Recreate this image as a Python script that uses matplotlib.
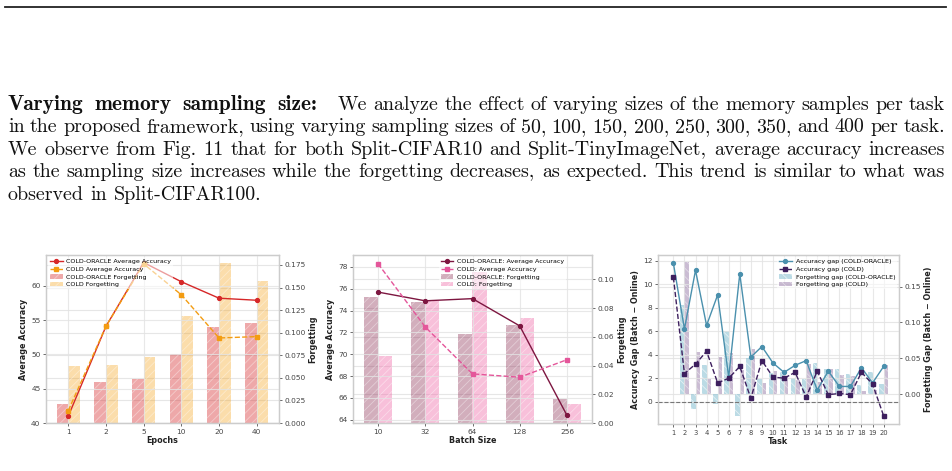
import matplotlib
matplotlib.use("Agg")
import matplotlib.pyplot as plt
from matplotlib.lines import Line2D
from matplotlib.ticker import MultipleLocator, FormatStrFormatter
import numpy as np

W, H = 952, 471

# ---- paragraph text ----
heading = "Varying memory sampling size:"
para_lines = [
    "We analyze the effect of varying sizes of the memory samples per task",
    "in the proposed framework, using varying sampling sizes of 50, 100, 150, 200, 250, 300, 350, and 400 per task.",
    "We observe from Fig. 11 that for both Split-CIFAR10 and Split-TinyImageNet, average accuracy increases",
    "as the sampling size increases while the forgetting decreases, as expected. This trend is similar to what was",
    "observed in Split-CIFAR100.",
]

# ---- panel 1: epochs ----
epochs = ["1", "2", "5", "10", "20", "40"]
ep_acc_oracle = [41.0, 54.1, 63.4, 60.6, 58.2, 57.9]
ep_acc_cold = [41.8, 54.1, 63.2, 58.7, 52.4, 52.6]
ep_fgt_oracle = [0.021, 0.045, 0.049, 0.076, 0.106, 0.111]
ep_fgt_cold = [0.063, 0.064, 0.073, 0.118, 0.177, 0.157]

# ---- panel 2: batch size ----
batch = ["10", "32", "64", "128", "256"]
bs_acc_oracle = [75.7, 74.9, 75.1, 72.6, 64.4]
bs_acc_cold = [78.3, 72.5, 68.2, 67.9, 69.5]
bs_fgt_oracle = [0.0875, 0.084, 0.062, 0.068, 0.017]
bs_fgt_cold = [0.047, 0.085, 0.105, 0.073, 0.013]

# ---- panel 3: per task gaps ----
tasks = list(range(1, 21))
gap_acc_oracle = [11.8, 6.2, 11.2, 6.5, 9.1, 2.1, 10.9, 3.8, 4.7, 3.3,
                  2.5, 3.1, 3.5, 1.0, 2.6, 1.3, 1.3, 2.9, 1.6, 3.0]
gap_acc_cold = [10.6, 2.4, 3.2, 4.3, 1.6, 2.0, 3.0, 0.3, 3.5, 2.1,
                2.0, 2.5, 0.4, 2.6, 0.6, 0.7, 0.6, 2.5, 1.5, -1.2]
gap_fgt_oracle = [0.001, 0.124, -0.021, 0.041, -0.013, 0.088, -0.030, 0.051, 0.021, 0.030,
                  0.031, 0.023, 0.021, 0.043, 0.035, 0.035, 0.028, 0.013, 0.031, 0.015]
gap_fgt_cold = [0.001, 0.184, 0.059, 0.021, 0.052, 0.057, 0.034, 0.063, 0.016, 0.033,
                0.025, 0.020, 0.042, 0.017, 0.035, 0.027, 0.026, 0.004, 0.006, 0.041]

plt.rcParams['font.family'] = ['DejaVu Sans']
plt.rcParams['hatch.linewidth'] = 0.6
plt.rcParams['axes.unicode_minus'] = True

fig = plt.figure(figsize=(W / 100, H / 100), dpi=100)


def px(x, y):
    return x / W, 1 - y / H


def rect(x0, y0, x1, y1):
    return [x0 / W, 1 - y1 / H, (x1 - x0) / W, (y1 - y0) / H]


# top rule
fig.add_artist(Line2D([5 / W, 946 / W], [1 - 7 / H] * 2, color='#222222', lw=1.3))

# justified paragraph
renderer = fig.canvas.get_renderer()


def text_w(s, fam, size):
    t = fig.text(0, 0, s, fontfamily=fam, fontsize=size)
    w = t.get_window_extent(renderer).width
    t.remove()
    return w


def put_words(words, fam, size, x0, x1, y, justify=True):
    widths = [text_w(wd, fam, size) for wd in words]
    if justify and len(words) > 1:
        gap = (x1 - x0 - sum(widths)) / (len(words) - 1)
    else:
        gap = sp * size
    x = x0
    for wd, wdt in zip(words, widths):
        fig.text(*px(x, y), wd, fontfamily=fam, fontsize=size, va='baseline',
                 ha='left', color='#111111')
        x += wdt + gap


left, right = 8, 945
sp = 0.333 * 100 / 72  # interword space per pt, in px
# size the font so that line 2 at natural spacing spans the text width
words2 = para_lines[1].split()
w13 = sum(text_w(wd, 'cmr10', 13.0) for wd in words2)
fs = 1.03 * (right - left) / (w13 / 13.0 + (len(words2) - 1) * sp)
base0, step = 110, 22.4

# line 1: bold run-in heading, then body text
put_words(heading.split(), 'cmb10', fs * 1.07, left, 317, base0)
put_words(para_lines[0].split(), 'cmr10', fs, 338, right, base0)
for i in range(1, len(para_lines)):
    put_words(para_lines[i].split(), 'cmr10', fs, left, right, base0 + i * step,
              justify=(i < len(para_lines) - 1))


def style(ax, ax2):
    for a in (ax, ax2):
        for s in a.spines.values():
            s.set_color('#cccccc')
            s.set_linewidth(0.9)
        a.tick_params(length=2.5, width=0.6, color='#555555', labelsize=5.3,
                      labelcolor='#444444', pad=1.5)
    ax.set_zorder(ax2.get_zorder() + 1)
    ax.patch.set_visible(False)
    ax2.set_axisbelow(True)
    ax2.grid(True, axis='y', color='#e6e6e6', lw=0.8)
    ax.grid(True, color='#e3e3e3', lw=0.8, alpha=0.8)


lab = dict(fontsize=5.8, fontweight='bold', color='#222222')
leg = dict(fontsize=4.6, labelspacing=0.35, handlelength=2.0, handletextpad=0.6,
           framealpha=0.55, edgecolor='none', borderpad=0.3)

# ---- panel 1 ----
ax = fig.add_axes(rect(46, 255, 279, 423))
ax2 = ax.twinx()
x = np.arange(len(epochs))
w = 0.31
ax2.bar(x - w / 2, ep_fgt_oracle, w, color='#d62728', alpha=0.4, hatch='////',
        edgecolor='white', lw=0, label='COLD-ORACLE Forgetting')
ax2.bar(x + w / 2, ep_fgt_cold, w, color='#f5a623', alpha=0.38, hatch='////',
        edgecolor='white', lw=0, label='COLD Forgetting')
ax.plot(x, ep_acc_oracle, '-o', color='#d62728', lw=1.0, ms=2.8, label='COLD-ORACLE Average Accuracy')
ax.plot(x, ep_acc_cold, '--s', color='#f39c12', lw=1.0, ms=2.8, label='COLD Average Accuracy')
ax.set_ylim(40, 64.5)
ax2.set_ylim(0, 0.186)
ax2.yaxis.set_major_locator(MultipleLocator(0.025))
ax2.yaxis.set_major_formatter(FormatStrFormatter('%.3f'))
ax.set_xticks(x, epochs)
style(ax, ax2)
ax.set_xlabel('Epochs', labelpad=1, **lab)
ax.set_ylabel('Average Accuracy', labelpad=2, **lab)
ax2.set_ylabel('Forgetting', labelpad=2, **lab)
h1, l1 = ax.get_legend_handles_labels()
h2, l2 = ax2.get_legend_handles_labels()
ax.legend(h1 + h2, l1 + l2, loc='upper left', borderaxespad=0.3, **leg)

# ---- panel 2 ----
ax = fig.add_axes(rect(353, 255, 592, 423))
ax2 = ax.twinx()
x = np.arange(len(batch))
w = 0.3
ax2.bar(x - w / 2, bs_fgt_oracle, w, color='#8a2a50', alpha=0.38, hatch='////',
        edgecolor='white', lw=0, label='COLD-ORACLE: Forgetting')
ax2.bar(x + w / 2, bs_fgt_cold, w, color='#f06aa8', alpha=0.42, hatch='////',
        edgecolor='white', lw=0, label='COLD: Forgetting')
ax.plot(x, bs_acc_oracle, '-o', color='#7d1640', lw=1.0, ms=2.8, label='COLD-ORACLE: Average Accuracy')
ax.plot(x, bs_acc_cold, '--s', color='#e4569a', lw=1.0, ms=2.8, label='COLD: Average Accuracy')
ax.set_ylim(63.7, 79.1)
ax.yaxis.set_major_locator(MultipleLocator(2))
ax2.set_ylim(0, 0.117)
ax2.yaxis.set_major_locator(MultipleLocator(0.02))
ax2.yaxis.set_major_formatter(FormatStrFormatter('%.2f'))
ax.set_xticks(x, batch)
style(ax, ax2)
ax.set_xlabel('Batch Size', labelpad=1, **lab)
ax.set_ylabel('Average Accuracy', labelpad=2, **lab)
ax2.set_ylabel('Forgetting', labelpad=2, **lab)
h1, l1 = ax.get_legend_handles_labels()
h2, l2 = ax2.get_legend_handles_labels()
ax.legend(h1 + h2, l1 + l2, loc='upper right', bbox_to_anchor=(0.9, 1.0), borderaxespad=0.3, **leg)

# ---- panel 3 ----
ax = fig.add_axes(rect(658, 255, 899, 424))
ax2 = ax.twinx()
x = np.array(tasks)
w = 0.4
ax2.bar(x - w / 2, gap_fgt_oracle, w, color='#8fc3d4', alpha=0.6, hatch='\\\\\\\\',
        edgecolor='white', lw=0, label='Forgetting gap (COLD-ORACLE)')
ax2.bar(x + w / 2, gap_fgt_cold, w, color='#8b6b9e', alpha=0.45, hatch='\\\\\\\\',
        edgecolor='white', lw=0, label='Forgetting gap (COLD)')
ax.plot(x, gap_acc_oracle, '-o', color='#4a90ad', lw=1.0, ms=2.8, label='Accuracy gap (COLD-ORACLE)')
ax.plot(x, gap_acc_cold, '--s', color='#3d1f5e', lw=1.0, ms=2.8, label='Accuracy gap (COLD)')
ax.axhline(0, color='#777777', ls='--', lw=0.8)
ax.set_ylim(-1.9, 12.5)
ax.yaxis.set_major_locator(MultipleLocator(2))
ax2.set_ylim(-0.0414, 0.194)
ax2.yaxis.set_major_locator(MultipleLocator(0.05))
ax2.yaxis.set_major_formatter(FormatStrFormatter('%.2f'))
ax.set_xticks(x, [str(t) for t in tasks])
style(ax, ax2)
ax.tick_params(axis='x', labelsize=4.9)
ax.set_xlabel('Task', labelpad=1, **lab)
ax.set_ylabel('Accuracy Gap (Batch \u2212 Online)', labelpad=2, **lab)
ax2.set_ylabel('Forgetting Gap (Batch \u2212 Online)', labelpad=2, **lab)
h1, l1 = ax.get_legend_handles_labels()
h2, l2 = ax2.get_legend_handles_labels()
ax.legend(h1 + h2, l1 + l2, loc='upper right', borderaxespad=0.3, **leg)

fig.savefig('out.png', dpi=100)
